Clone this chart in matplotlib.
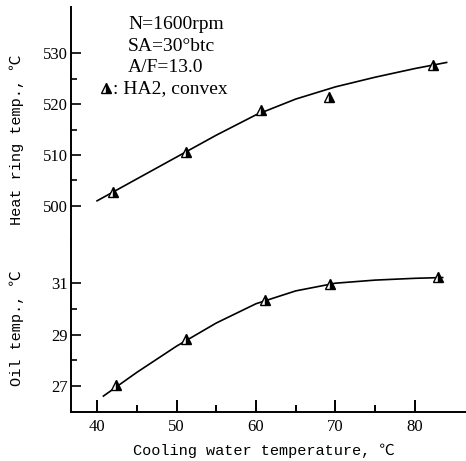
import matplotlib
matplotlib.use("Agg")
import matplotlib.pyplot as plt
import numpy as np

# measured points
water_ring = [42.0, 51.2, 60.6, 69.2, 82.3]
ring_temp = [502.8, 510.6, 518.9, 521.4, 527.7]
water_oil = [42.4, 51.2, 61.1, 69.3, 82.9]
oil_temp = [27.04, 28.82, 30.35, 30.97, 31.23]

# fitted curves as drawn on the chart
curve_x_ring = [40, 45, 50, 55, 60, 65, 70, 75, 80, 84]
curve_ring = [501.0, 505.3, 509.6, 513.9, 517.9, 521.0, 523.4, 525.3, 527.0, 528.2]
curve_x_oil = [40.8, 45, 50, 55, 60, 65, 70, 75, 80, 83.5]
curve_oil = [26.61, 27.53, 28.55, 29.45, 30.20, 30.70, 31.00, 31.12, 31.19, 31.22]

serif = ["Liberation Serif", "DejaVu Serif"]
mono = ["Liberation Mono", "Noto Sans CJK SC", "DejaVu Sans"]

W, H = 466, 461
fig = plt.figure(figsize=(W / 100, H / 100), dpi=100)
left = 71 / W
width = (W - 71) / W
ax1 = fig.add_axes([left, (H - 240) / H, width, (240 - 7) / H])
ax2 = fig.add_axes([left, (H - 412) / H, width, (412 - 240) / H])

mk = dict(marker="^", markersize=7.5, fillstyle="right", markerfacecolor="black",
          markerfacecoloralt="white", markeredgecolor="black", markeredgewidth=1.0,
          linestyle="none")

ax1.plot(curve_x_ring, curve_ring, color="black", lw=1.2)
ax1.plot(water_ring, ring_temp, **mk)
ax2.plot(curve_x_oil, curve_oil, color="black", lw=1.2)
ax2.plot(water_oil, oil_temp, **mk)

ax1.set_xlim(36.72, 86.44)
ax2.set_xlim(36.72, 86.44)
ax1.set_ylim(493.3, 539.1)
ax2.set_ylim(25.99, 32.68)

for ax in (ax1, ax2):
    for s in ["top", "right"]:
        ax.spines[s].set_visible(False)
    ax.spines["left"].set_linewidth(1.4)
    ax.tick_params(axis="y", direction="in", length=7, width=1.2, pad=2, labelsize=12)
    ax.tick_params(axis="y", which="minor", direction="in", length=4, width=1.2)

ax1.spines["bottom"].set_visible(False)
ax1.set_xticks([])
ax1.set_yticks([500, 510, 520, 530])
ax1.set_yticks([505, 515, 525], minor=True)
ax2.set_yticks([27, 29, 31])
ax2.set_yticks([28, 30], minor=True)
ax2.set_xticks([40, 50, 60, 70, 80])
ax2.set_xticks([45, 55, 65, 75], minor=True)
ax2.spines["bottom"].set_linewidth(1.4)
ax2.tick_params(axis="x", direction="in", length=9, width=1.4, pad=5, labelsize=12)
ax2.tick_params(axis="x", which="minor", direction="in", length=5, width=1.4)
for ax in (ax1, ax2):
    for lab in ax.get_yticklabels() + ax.get_xticklabels():
        lab.set_family(serif)

fig.text(17 / W, 1 - 140 / H, "Heat ring temp., \u2103", rotation=90, ha="center",
         va="center", family=mono, fontsize=11)
fig.text(17 / W, 1 - 328 / H, "Oil temp., \u2103", rotation=90, ha="center",
         va="center", family=mono, fontsize=11)
fig.text(264 / W, 1 - 451 / H, "Cooling water temperature, \u2103", ha="center",
         va="center", family=mono, fontsize=11)

notes = ["N=1600rpm", "SA=30\u00b0btc", "A/F=13.0"]
base = [29, 51, 72]
for t, b in zip(notes, base):
    fig.text(128 / W, 1 - b / H, t, ha="left", va="baseline", family=serif, fontsize=14)
fig.text(113 / W, 1 - 93 / H, ": HA2, convex", ha="left", va="baseline",
         family=serif, fontsize=14)
ax1.plot([106 / W], [1 - 88 / H], transform=fig.transFigure, clip_on=False, **mk)

fig.savefig("out.png", dpi=100)
